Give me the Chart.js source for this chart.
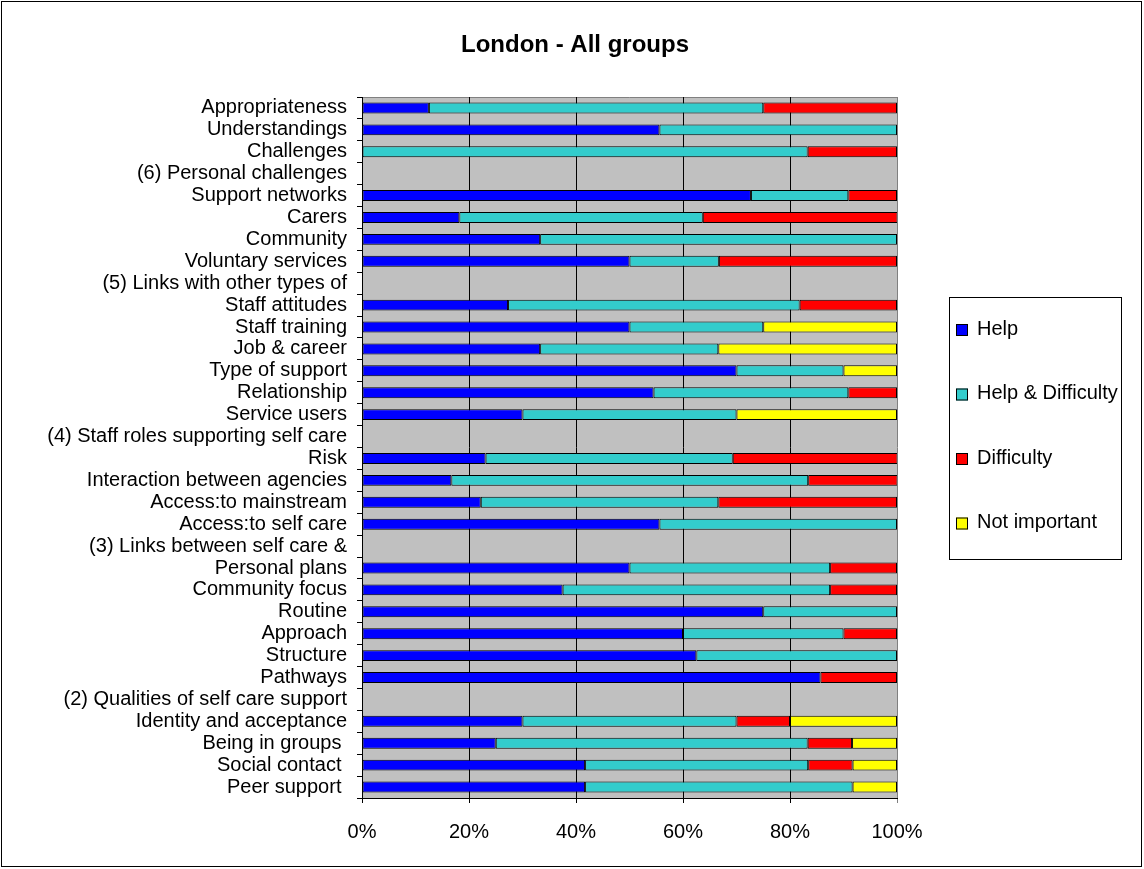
<!DOCTYPE html>
<html>
<head>
<meta charset="utf-8">
<script src="https://cdn.jsdelivr.net/npm/chart.js@4.4.1/dist/chart.umd.min.js"></script>
<style>
  html, body { margin: 0; padding: 0; background: #fff; }
  #wrap { width: 1144px; height: 869px; }
</style>
</head>
<body>
<div id="wrap"><canvas id="chart" width="1144" height="869"></canvas></div>
<script>
const chartTitle = 'London - All groups';

const categories = [
    'Appropriateness', 'Understandings', 'Challenges', '(6) Personal challenges',
    'Support networks', 'Carers', 'Community', 'Voluntary services',
    '(5) Links with other types of', 'Staff attitudes', 'Staff training', 'Job & career',
    'Type of support', 'Relationship', 'Service users', '(4) Staff roles supporting self care',
    'Risk', 'Interaction between agencies', 'Access:to mainstream', 'Access:to self care',
    '(3) Links between self care &', 'Personal plans', 'Community focus', 'Routine',
    'Approach', 'Structure', 'Pathways', '(2) Qualities of self care support',
    'Identity and acceptance', 'Being in groups ', 'Social contact ', 'Peer support '
];

const seriesNames = ['Help', 'Help & Difficulty', 'Difficulty', 'Not important'];
const seriesColors = ['#0000FF', '#33CCCC', '#FF0000', '#FFFF00'];

// percentages per row, top to bottom
const help        = [12.5, 55.6, 0, 0, 72.7, 18.2, 33.3, 50, 0, 27.3, 50, 33.3, 70, 54.5, 30, 0,
                     23.1, 16.7, 22.2, 55.6, 0, 50, 37.5, 75, 60, 62.5, 85.7, 0, 30, 25, 41.7, 41.7];
const helpDiff    = [62.5, 44.4, 83.3, 0, 18.2, 45.5, 66.7, 16.7, 0, 54.5, 25, 33.3, 20, 36.4, 40, 0,
                     46.2, 66.7, 44.4, 44.4, 0, 37.5, 50, 25, 30, 37.5, 0, 0, 40, 58.3, 41.7, 50];
const difficulty  = [25, 0, 16.7, 0, 9.1, 36.4, 0, 33.3, 0, 18.2, 0, 0, 0, 9.1, 0, 0,
                     30.8, 16.7, 33.4, 0, 0, 12.5, 12.5, 0, 10, 0, 14.3, 0, 10, 8.3, 8.3, 0];
const notImportant = [0, 0, 0, 0, 0, 0, 0, 0, 0, 0, 25, 33.4, 10, 0, 30, 0,
                      0, 0, 0, 0, 0, 0, 0, 0, 0, 0, 0, 0, 20, 8.4, 8.3, 8.3];

const seriesValues = [help, helpDiff, difficulty, notImportant];

const FONT = '"Liberation Sans", Arial, sans-serif';

// background, outer frame, title and boxed legend
const frame = {
    id: 'frame',
    beforeDraw(chart) {
        const { ctx, chartArea: a } = chart;
        ctx.save();
        ctx.fillStyle = '#fff';
        ctx.fillRect(0, 0, chart.width, chart.height);
        ctx.strokeStyle = '#000';
        ctx.lineWidth = 1;
        ctx.strokeRect(1.5, 1.5, 1140, 865);
        ctx.fillStyle = '#C0C0C0';
        ctx.fillRect(a.left, a.top, a.right - a.left, a.bottom - a.top);
        ctx.strokeStyle = '#808080';
        ctx.beginPath();
        ctx.moveTo(a.left, a.top + 0.5);
        ctx.lineTo(a.right, a.top + 0.5);
        ctx.stroke();
        ctx.restore();
    },
    afterDraw(chart) {
        const { ctx } = chart;
        ctx.save();
        ctx.fillStyle = '#000';
        ctx.font = 'bold 24px ' + FONT;
        ctx.textAlign = 'center';
        ctx.textBaseline = 'middle';
        ctx.fillText(chartTitle, 575, 45);

        // legend box
        ctx.strokeStyle = '#000';
        ctx.lineWidth = 1;
        ctx.strokeRect(949.5, 297.5, 172, 262);
        ctx.font = '20px ' + FONT;
        ctx.textAlign = 'left';
        chart.data.datasets.forEach((ds, i) => {
            const cy = 330 + i * 64.5;
            ctx.fillStyle = ds.backgroundColor;
            ctx.fillRect(956, cy - 6, 12, 12);
            ctx.strokeRect(956.5, cy - 5.5, 11, 11);
            ctx.fillStyle = '#000';
            ctx.fillText(ds.label, 977, cy - 1);
        });
        ctx.restore();
    }
};

const datasets = seriesNames.map((name, i) => ({
    label: name,
    data: seriesValues[i],
    backgroundColor: seriesColors[i],
    borderColor: '#000',
    borderWidth: 1,
    borderSkipped: false,
    categoryPercentage: 1,
    barPercentage: 0.5
}));

new Chart(document.getElementById('chart'), {
    type: 'bar',
    data: { labels: categories, datasets: datasets },
    plugins: [frame],
    options: {
        indexAxis: 'y',
        responsive: false,
        animation: false,
        layout: { padding: { top: 97, right: 247, left: 0, bottom: 0 } },
        plugins: {
            legend: { display: false },
            title: { display: false },
            tooltip: { enabled: false }
        },
        scales: {
            x: {
                stacked: true,
                min: 0,
                max: 100,
                afterFit: (scale) => { scale.height = 71; },
                ticks: {
                    stepSize: 20,
                    color: '#000',
                    padding: 17,
                    font: { family: FONT, size: 20 },
                    callback: (v) => v + '%'
                },
                grid: {
                    color: (c) => (c.tick && c.tick.value === 100 ? '#808080' : '#000'),
                    lineWidth: 1,
                    tickLength: 5
                },
                border: { color: '#000', width: 1 }
            },
            y: {
                stacked: true,
                afterFit: (scale) => { scale.width = 362; },
                ticks: {
                    autoSkip: false,
                    color: '#000',
                    padding: 10,
                    font: { family: FONT, size: 20 }
                },
                grid: {
                    offset: true,
                    drawOnChartArea: false,
                    color: '#000',
                    tickLength: 5
                },
                border: { color: '#000', width: 1 }
            }
        }
    }
});
</script>
</body>
</html>
